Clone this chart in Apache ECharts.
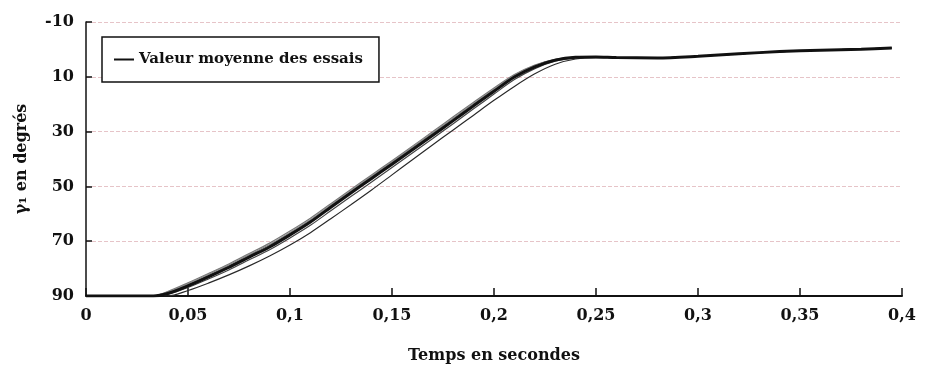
<!DOCTYPE html>
<html>
<head>
<meta charset="utf-8">
<script src="https://cdn.jsdelivr.net/npm/echarts@6/dist/echarts.min.js"></script>
<style>
  html, body { margin: 0; padding: 0; background: #fff; }
  #chart { width: 925px; height: 372px; }
</style>
</head>
<body>
<div id="chart"></div>
<script>
// temps (s)
var times = [0, 0.02, 0.033, 0.04, 0.05, 0.06, 0.07, 0.08, 0.09, 0.10, 0.11, 0.12, 0.13, 0.14,
             0.15, 0.16, 0.17, 0.18, 0.19, 0.20, 0.21, 0.22, 0.23, 0.24, 0.25, 0.26, 0.28,
             0.30, 0.32, 0.34, 0.36, 0.38, 0.395];

// valeur moyenne (degres)
var meanValues = [90, 90, 90, 89.1, 86.3, 83.0, 79.6, 75.8, 72.1, 67.7, 63.0, 57.6, 52.3, 47.1,
                  41.9, 36.6, 31.3, 26.0, 20.6, 15.3, 10.1, 6.4, 3.9, 2.9, 2.8, 3.0, 3.1,
                  2.5, 1.6, 0.8, 0.3, -0.1, -0.5];

// essais individuels
var trial1 = [90, 90, 90, 90, 88.0, 85.3, 82.3, 79.0, 75.4, 71.4, 66.9, 61.8, 56.6, 51.3,
              45.8, 40.3, 34.8, 29.4, 24.0, 18.6, 13.5, 8.9, 5.4, 3.5, 3.0, 3.0, 3.1,
              2.5, 1.6, 0.8, 0.3, -0.1, -0.5];
var trial2 = [90, 90, 89.9, 88.4, 85.2, 81.8, 78.3, 74.5, 70.7, 66.3, 61.6, 56.3, 51.0, 45.8,
              40.6, 35.3, 30.0, 24.6, 19.3, 14.1, 9.2, 5.7, 3.6, 2.9, 2.8, 3.0, 3.1,
              2.5, 1.6, 0.8, 0.3, -0.1, -0.5];
var trial3 = [90, 90, 90, 88.8, 85.8, 82.5, 79.0, 75.2, 71.5, 67.1, 62.4, 57.0, 51.7, 46.4,
              41.2, 35.9, 30.6, 25.3, 19.9, 14.7, 9.6, 6.0, 3.7, 2.9, 2.8, 3.0, 3.1,
              2.5, 1.6, 0.8, 0.3, -0.1, -0.5];
var trial4 = [90, 90, 90, 89.4, 86.9, 83.8, 80.5, 76.8, 73.1, 68.8, 64.2, 58.9, 53.6, 48.4,
              43.1, 37.8, 32.5, 27.1, 21.7, 16.3, 11.0, 7.0, 4.3, 3.1, 2.8, 3.0, 3.1,
              2.5, 1.6, 0.8, 0.3, -0.1, -0.5];
var trial5 = [90, 90, 90, 88.6, 85.5, 82.1, 78.6, 74.9, 71.2, 66.8, 62.2, 56.8, 51.5, 46.2,
              41.0, 35.7, 30.4, 25.1, 19.7, 14.5, 9.4, 5.9, 3.7, 2.9, 2.8, 3.0, 3.1,
              2.5, 1.6, 0.8, 0.3, -0.1, -0.5];

var trials = [trial1, trial2, trial3, trial4, trial5];
var trialColors = ['#2a2a2a', '#777', '#555', '#444', '#888'];

var yTicks = [-10, 10, 30, 50, 70, 90];

function pairs(vals) {
    return times.map(function(t, i) { return [t, vals[i]]; });
}

var fontFam = '"DejaVu Serif", "Liberation Serif", serif';

var series = trials.map(function(vals, k) {
    return {
        name: 'essai ' + (k + 1),
        type: 'line',
        data: pairs(vals),
        showSymbol: false,
        smooth: 0.3,
        z: 2,
        lineStyle: { color: trialColors[k], width: 1.2 }
    };
});
series.push({
    name: 'Valeur moyenne des essais',
    type: 'line',
    data: pairs(meanValues),
    showSymbol: false,
    smooth: 0.3,
    z: 5,
    itemStyle: { color: '#111' },
    lineStyle: { color: '#111', width: 3 }
});

var chart = echarts.init(document.getElementById('chart'));
chart.setOption({
    animation: false,
    backgroundColor: '#fff',
    grid: { left: 86, right: 23, top: 22, bottom: 76 },
    legend: {
        data: [{ name: 'Valeur moyenne des essais', icon: 'rect' }],
        left: 102,
        top: 37,
        padding: [15, 16, 15, 12],
        itemWidth: 20,
        itemHeight: 2,
        itemGap: 8,
        borderColor: '#111',
        borderWidth: 1.5,
        borderRadius: 0,
        backgroundColor: '#fff',
        textStyle: { fontFamily: fontFam, fontWeight: 'bold', fontSize: 15, color: '#111' }
    },
    xAxis: {
        type: 'value',
        min: 0,
        max: 0.4,
        interval: 0.05,
        name: 'Temps en secondes',
        nameLocation: 'middle',
        nameGap: 52,
        nameTextStyle: { fontFamily: fontFam, fontWeight: 'bold', fontSize: 16, color: '#111' },
        axisLine: { onZero: false, lineStyle: { color: '#111', width: 2 } },
        axisTick: { inside: true, length: 8, lineStyle: { color: '#111', width: 1.5 } },
        axisLabel: {
            margin: 12,
            fontFamily: fontFam, fontWeight: 'bold', fontSize: 16, color: '#111',
            formatter: function(v) { return String(+v.toFixed(2)).replace('.', ','); }
        },
        splitLine: { show: false }
    },
    yAxis: {
        type: 'value',
        inverse: true,
        min: -10,
        max: 90,
        interval: 20,
        name: 'γ₁ en degrés',
        nameLocation: 'middle',
        nameGap: 56,
        nameTextStyle: { fontFamily: fontFam, fontWeight: 'bold', fontSize: 16, color: '#111' },
        axisLine: { show: true, onZero: false, lineStyle: { color: '#111', width: 1.5 } },
        axisTick: { show: true, inside: true, length: 6, lineStyle: { color: '#111', width: 1.5 } },
        axisLabel: {
            margin: 12,
            fontFamily: fontFam, fontWeight: 'bold', fontSize: 16, color: '#111',
            customValues: yTicks
        },
        splitLine: { show: true, lineStyle: { color: '#e6c4c8', type: 'dashed', width: 1 } }
    },
    series: series
});
</script>
</body>
</html>
